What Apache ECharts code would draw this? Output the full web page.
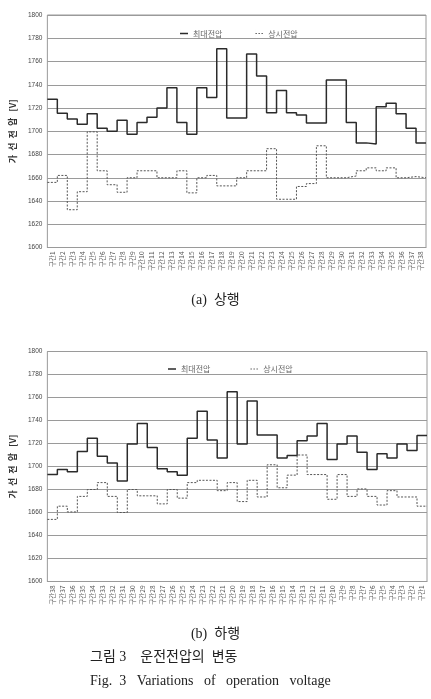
<!DOCTYPE html>
<html>
<head>
<meta charset="utf-8">
<script src="https://cdn.jsdelivr.net/npm/echarts@6/dist/echarts.min.js"></script>
<style>
html,body{margin:0;padding:0;background:#fff;}
#c{width:431px;height:699px;}
</style>
</head>
<body>
<div id="c"></div>
<script>
// Tick labels
const labelsUp = ['구간1','구간2','구간3','구간4','구간5','구간6','구간7','구간8','구간9','구간10',
  '구간11','구간12','구간13','구간14','구간15','구간16','구간17','구간18','구간19','구간20',
  '구간21','구간22','구간23','구간24','구간25','구간26','구간27','구간28','구간29','구간30',
  '구간31','구간32','구간33','구간34','구간35','구간36','구간37','구간38'];
const labelsDown = ['구간38','구간37','구간36','구간35','구간34','구간33','구간32','구간31','구간30','구간29',
  '구간28','구간27','구간26','구간25','구간24','구간23','구간22','구간21','구간20','구간19',
  '구간18','구간17','구간16','구간15','구간14','구간13','구간12','구간11','구간10','구간9',
  '구간8','구간7','구간6','구간5','구간4','구간3','구간2','구간1'];
const seriesNames = ['최대전압', '상시전압'];

// (a) 상행
const maxUp = [1727.5,1715.5,1710.5,1706,1715,1702.5,1700,1709.5,1697.5,1707.5,
  1712,1720,1737.5,1707.5,1697.5,1737.5,1729,1771,1711.5,1711.5,
  1766.5,1747.5,1716,1735,1716,1714,1707,1707,1744,1744,
  1707.5,1690,1689,1721,1724,1715,1702.5,1690];
const constUp = [1656,1662,1632.5,1648,1699.5,1666,1654,1647.5,1660,1666,
  1666,1660,1660,1666,1647,1660,1662,1653,1653,1660,
  1666,1666,1685,1641.5,1641.5,1652.5,1655,1687.5,1660,1660,
  1661.5,1666,1668.5,1666,1668.5,1660,1661,1660];

// (b) 하행
const maxDown = [1693,1697.5,1695.5,1713,1724.5,1709,1703,1687.5,1719.5,1737.5,
  1716.5,1698,1695.5,1692.5,1724.5,1748,1723,1707.5,1765,1719.5,
  1757,1727.5,1727.5,1707.5,1709.5,1722.5,1726.5,1737.5,1706,1719.5,
  1726.5,1712.5,1697.5,1711,1707.5,1719.5,1714,1727];
const constDown = [1654,1665.5,1660.5,1674,1680,1686,1674,1660,1680,1674.5,
  1674.5,1667.5,1680,1672.5,1686,1688,1688,1679,1686,1669.5,
  1688,1673.5,1701.5,1681.5,1692.5,1710,1693,1693,1671.5,1693,
  1674,1680.5,1674,1666.5,1679,1673.5,1673.5,1665.5];

const yMin = 1600, yMax = 1800, yStep = 20;

// step data: each value held across its category band
function stepData(arr) {
  const d = arr.map((v, i) => [i, v]);
  d.push([arr.length, arr[arr.length - 1]]);
  return d;
}

const chart = echarts.init(document.getElementById('c'), null, {renderer: 'canvas'});
const gridColor = '#9a9a9a';
const cjk = "'Noto Sans CJK KR', sans-serif";
const serif = "'Liberation Serif', 'Noto Sans CJK KR', serif";
const solidIcon = 'path://M0,0h0.01v8h-0.01z M0,3.3h8v1.4h-8z';
const dotIcon = 'path://M0,0h0.01v8h-0.01z M0,3.5h1.5v1h-1.5z M3,3.5h1.5v1h-1.5z M6,3.5h1.5v1h-1.5z';

function yAxisDef(gi) {
  return {
    type: 'value', gridIndex: gi, min: yMin, max: yMax, interval: yStep,
    name: '가  선  전  압   [V]', nameLocation: 'middle', nameGap: 27, nameRotate: 90,
    nameTextStyle: {fontSize: 9, color: '#333', fontFamily: cjk, fontWeight: 'bold'},
    axisLine: {show: false}, axisTick: {show: false},
    axisLabel: {fontSize: 6.5, color: '#444', margin: 5, fontFamily: 'Liberation Sans',
      formatter: v => String(v)},
    splitLine: {lineStyle: {color: gridColor, width: 1}}
  };
}
function catAxisDef(gi, labels) {
  return {
    type: 'category', gridIndex: gi, data: labels, boundaryGap: true,
    axisLine: {lineStyle: {color: gridColor}},
    axisTick: {inside: true, length: 2, lineStyle: {color: gridColor}},
    axisLabel: {rotate: 90, fontSize: 6.5, color: '#555', margin: 4, interval: 0, fontFamily: cjk}
  };
}
function valAxisDef(gi, n) {
  return {type: 'value', gridIndex: gi, min: 0, max: n, show: false, splitLine: {show: false}};
}
function legendDef(left, top, gap) {
  return {
    data: [{name: seriesNames[0], icon: solidIcon}, {name: seriesNames[1], icon: dotIcon}],
    left: left, top: top, itemGap: gap, itemWidth: 8, itemHeight: 8,
    textStyle: {fontSize: 8, color: '#666', fontFamily: cjk},
    selectedMode: false
  };
}
function maxSeries(xi, yi, arr) {
  return {name: seriesNames[0], type: 'line', xAxisIndex: xi, yAxisIndex: yi, step: 'end',
    symbol: 'none', data: stepData(arr), animation: false,
    lineStyle: {color: '#2b2b2b', width: 1.5}, itemStyle: {color: '#2b2b2b'}};
}
function constSeries(xi, yi, arr) {
  return {name: seriesNames[1], type: 'line', xAxisIndex: xi, yAxisIndex: yi, step: 'end',
    symbol: 'none', data: stepData(arr), animation: false,
    lineStyle: {color: '#555', width: 1, type: [2, 1.5]}, itemStyle: {color: '#666'}};
}

chart.setOption({
  animation: false,
  backgroundColor: '#fff',
  grid: [
    {left: 45, right: 5, top: 15, height: 232.5, show: true, borderColor: gridColor, borderWidth: 1, containLabel: false},
    {left: 45, right: 4, top: 351.5, height: 230, show: true, borderColor: gridColor, borderWidth: 1, containLabel: false}
  ],
  legend: [legendDef(175, 24.5, 33), legendDef(163, 360, 40)],
  xAxis: [catAxisDef(0, labelsUp), valAxisDef(0, maxUp.length), catAxisDef(1, labelsDown), valAxisDef(1, maxDown.length)],
  yAxis: [yAxisDef(0), yAxisDef(1)],
  series: [
    maxSeries(1, 0, maxUp), constSeries(1, 0, constUp),
    maxSeries(3, 1, maxDown), constSeries(3, 1, constDown)
  ],
  graphic: [
    {type: 'text', left: 'center', top: 293, style: {text: '(a)  상행', fontSize: 14, fill: '#222', fontFamily: serif}},
    {type: 'text', left: 'center', top: 627, style: {text: '(b)  하행', fontSize: 14, fill: '#222', fontFamily: serif}},
    {type: 'text', left: 90, top: 650, style: {text: '그림 3    운전전압의  변동', fontSize: 14, fill: '#222', fontFamily: serif}},
    {type: 'text', left: 90, top: 674, style: {text: 'Fig.  3   Variations   of   operation   voltage', fontSize: 14, fill: '#222', fontFamily: serif}}
  ]
});
</script>
</body>
</html>
